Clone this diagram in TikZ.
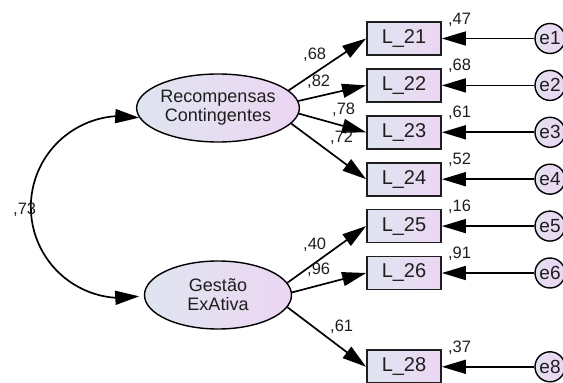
\documentclass[tikz,border=0pt]{standalone}
\usepackage{fontspec}
\setmainfont{Liberation Sans}
\usetikzlibrary{arrows.meta,shapes.geometric,bending}

\definecolor{ink}{HTML}{1E1E1E}
\definecolor{shadeL}{RGB}{223,229,240}
\definecolor{shadeR}{RGB}{236,214,242}

\begin{document}
\begin{tikzpicture}[x=1pt,y=1pt,
  latent/.style={ellipse, draw=black, line width=1.4pt, minimum width=147pt,
    minimum height=68pt, inner sep=0pt, left color=shadeL, right color=shadeR,
    align=center, text=ink, font=\fontsize{18}{19}\selectfont},
  indicator/.style={rectangle, draw=ink, line width=1.8pt, minimum width=74pt,
    minimum height=33pt, inner sep=0pt, left color=shadeL, right color=shadeR,
    text=ink, font=\fontsize{20}{22}\selectfont},
  errterm/.style={circle, draw=black, line width=1.4pt, minimum size=30pt,
    inner sep=0pt, left color=shadeL!60!shadeR, right color=shadeR,
    text=ink, font=\fontsize{19}{20}\selectfont},
  tip/.style={-{Triangle[length=24pt,width=14pt]}},
  load/.style={line width=1.7pt, tip},
  coef/.style={inner sep=0pt, anchor=base west, text=ink,
    font=\fontsize{16.5}{17}\selectfont},
]
\useasboundingbox (0,0) rectangle (563,383);

% latent factors
\node[latent] (rc) at (218,275) {Recompensas\\Contingentes};
\node[latent] (ge) at (218,88) {Gestão\\ExAtiva};

% observed indicators, their error terms and squared multiple correlations
\foreach \id/\y/\en/\r in {21/344.5/1/{,47}, 22/297.6/2/{,68}, 23/250.7/3/{,61},
    24/203.8/4/{,52}, 25/156.9/5/{,16}, 26/110/6/{,91}, 28/16.2/8/{,37}} {
  \node[indicator] (l\id) at (404,\y) {L\_\id};
  \node[errterm] (e\id) at (550,\y) {e\en};
  \draw[load] (e\id.west) -- (l\id.east);
  \node[coef] (r\id) at ([xshift=6pt,yshift=-3pt]l\id.north east) {\r};
}

% factor loadings
\draw[load] (rc.14)  -- (l21.west);
\draw[load] (rc.5)   -- (l22.west);
\draw[load] (rc.-4)  -- (l23.west);
\draw[load] (rc.-12) -- (l24.west);
\draw[load] (ge.10)  -- (l25.west);
\draw[load] (ge.2)   -- (l26.west);
\draw[load] (ge.-10) -- (l28.west);

\node[coef] (w21) at (303,323) {,68};
\node[coef] (w22) at (307,296) {,82};
\node[coef] (w23) at (332,268) {,78};
\node[coef] (w24) at (330,240) {,72};
\node[coef] (w25) at (303,133) {,40};
\node[coef] (w26) at (307,108) {,96};
\node[coef] (w28) at (330,51)  {,61};

% covariance between the factors
\draw[line width=1.7pt, {Triangle[length=24pt,width=14pt]}-{Triangle[length=24pt,width=14pt]}]
  (rc.187) arc[start angle=79, end angle=281, radius=91];
\node[coef] (cov) at (13,168) {,73};
\end{tikzpicture}
\end{document}
